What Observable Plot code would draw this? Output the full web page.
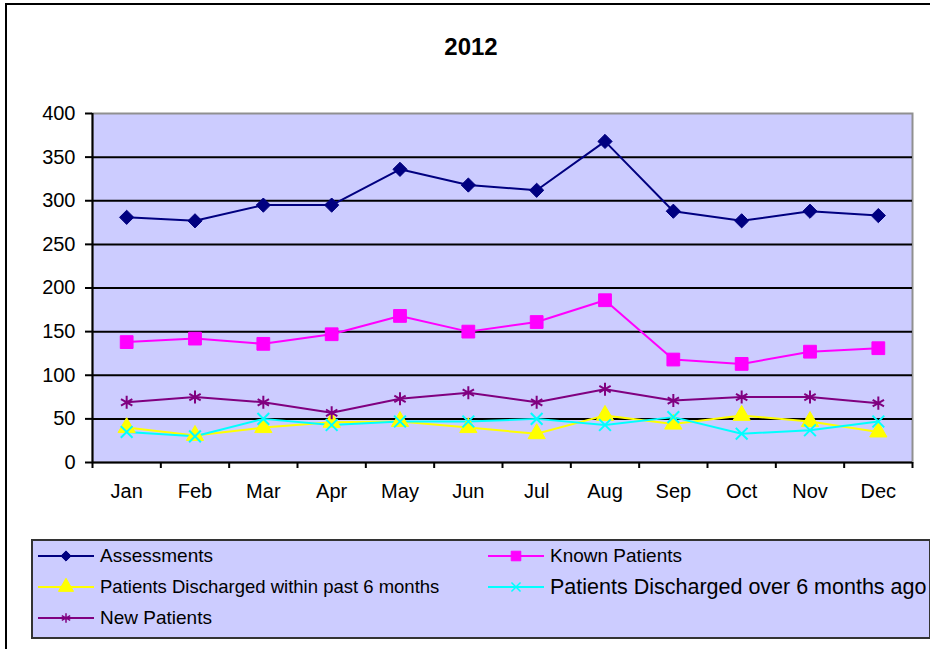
<!DOCTYPE html>
<html>
<head>
<meta charset="utf-8">
<script src="https://cdn.jsdelivr.net/npm/d3@7"></script>
<script src="https://cdn.jsdelivr.net/npm/@observablehq/plot@0.6"></script>
<style>
  html, body { margin: 0; padding: 0; background: #fff; }
  body { font-family: "Liberation Sans", Arial, sans-serif; }
  #wrap { position: relative; width: 930px; height: 649px; overflow: hidden; }
  #frame { position: absolute; left: 5px; top: 3px; width: 940px; height: 660px;
           border-left: 2px solid #000; border-top: 2px solid #000; }
  #chart { position: absolute; left: 0; top: 0; }
  #chart svg { background: transparent !important; overflow: visible; }
  #title { position: absolute; left: 0; width: 942px; top: 33px; text-align: center;
           font-weight: bold; font-size: 24px; line-height: 28px; color: #000; }
  #legend { position: absolute; left: 31px; top: 539px; width: 896px; height: 96px;
            background: #CCCCFF; border: 2px solid #333; }
  .item { position: absolute; display: flex; align-items: center; height: 24px; white-space: nowrap; color: #000; }
  .item svg { display: block; margin-right: 6px; }
</style>
</head>
<body>
<div id="wrap">
  <div id="frame"></div>
  <div id="chart"></div>
  <div id="title">2012</div>
  <div id="legend"></div>
</div>
<script>
// ---- data ----
const months = ["Jan","Feb","Mar","Apr","May","Jun","Jul","Aug","Sep","Oct","Nov","Dec"];
const yTicks = [0, 50, 100, 150, 200, 250, 300, 350, 400];

const assessments        = [281, 277, 295, 295, 336, 318, 312, 368, 288, 277, 288, 283];
const knownPatients      = [138, 142, 136, 147, 168, 150, 161, 186, 118, 113, 127, 131];
const dischargedWithin6  = [40, 31, 40, 46, 47, 40, 33, 54, 44, 54, 47, 35];
const dischargedOver6    = [35, 30, 50, 43, 47, 47, 50, 43, 52, 33, 37, 47];
const newPatients        = [69, 75, 69, 57, 73, 80, 69, 84, 71, 75, 75, 68];

const seriesNames  = ["Assessments", "Known Patients", "Patients Discharged within past 6 months",
                      "Patients Discharged over 6 months ago", "New Patients"];
const seriesValues = [assessments, knownPatients, dischargedWithin6, dischargedOver6, newPatients];
const seriesColors = ["#000080", "#FF00FF", "#FFFF00", "#00FFFF", "#800080"];
const seriesSymbols = ["diamond2", "square", "triangle", "times", "asterisk"];
const seriesR = [6.4, 7.2, 6.4, 5.4, 6.2];
const legendR = [4.6, 5.4, 5.6, 4.2, 4.6];
const seriesFilled = [true, true, true, false, false];
const legendFont = [19, 19, 18.5, 21.5, 19];

// ---- table ----
const rows = seriesNames.flatMap((name, s) =>
  seriesValues[s].map((v, i) => ({series: name, idx: s, x: i + 0.5, y: v})));

const W = 930, H = 530;
const marks = [
  Plot.frame({fill: "#CCCCFF", stroke: "#909090", strokeWidth: 2}),
  Plot.ruleY(yTicks.filter(t => t > 0 && t < 400), {stroke: "#000", strokeWidth: 2}),
  Plot.ruleX([0], {stroke: "#000", strokeWidth: 2}),
  Plot.ruleY([0], {stroke: "#000", strokeWidth: 2}),
  Plot.axisY({ticks: yTicks, tickSize: 7, tickPadding: 10, fontSize: 20, label: null,
              tickFormat: d => String(d), stroke: "#000", strokeWidth: 2, fill: "#000"}),
  Plot.axisX({ticks: d3.range(months.length + 1), tickSize: 6, label: null,
              tickFormat: () => "", stroke: "#000", strokeWidth: 2}),
  Plot.axisX({ticks: months.map((_, i) => i + 0.5), tickSize: 0, tickPadding: 21, fontSize: 20, label: null,
              tickFormat: v => months[Math.round(v - 0.5)], fill: "#000"})
];
seriesNames.forEach((name, s) => {
  const data = rows.filter(d => d.idx === s);
  marks.push(Plot.line(data, {x: "x", y: "y", stroke: seriesColors[s], strokeWidth: 2}));
});
seriesNames.forEach((name, s) => {
  const data = rows.filter(d => d.idx === s);
  marks.push(Plot.dot(data, {x: "x", y: "y", symbol: () => seriesSymbols[s], r: seriesR[s],
    fill: seriesFilled[s] ? seriesColors[s] : "none", stroke: seriesColors[s],
    strokeWidth: seriesFilled[s] ? 1 : 2}));
});

const chart = Plot.plot({
  width: W, height: H,
  marginLeft: 92, marginRight: 18, marginTop: 113, marginBottom: 68,
  style: {fontFamily: "'Liberation Sans', Arial, sans-serif", background: "transparent", color: "#000"},
  x: {type: "linear", domain: [0, months.length], axis: null, label: null},
  y: {type: "linear", domain: [0, 400], axis: null, label: null},
  symbol: {type: "identity"},
  marks
});
document.getElementById("chart").appendChild(chart);

// ---- legend ----
const legend = d3.select("#legend");
const symMap = {diamond2: d3.symbolDiamond2, square: d3.symbolSquare, triangle: d3.symbolTriangle,
                times: d3.symbolTimes, asterisk: d3.symbolAsterisk};
seriesNames.forEach((name, s) => {
  const col = s % 2, row = Math.floor(s / 2);
  const item = legend.append("div").attr("class", "item")
    .style("left", (5 + col * 450) + "px")
    .style("top", (3 + row * 31) + "px");
  const sw = item.append("svg").attr("width", 56).attr("height", 20);
  sw.append("line").attr("x1", 0).attr("x2", 56).attr("y1", 10).attr("y2", 10)
    .attr("stroke", seriesColors[s]).attr("stroke-width", 2);
  const r = legendR[s];
  sw.append("path").attr("transform", "translate(28,10)")
    .attr("d", d3.symbol(symMap[seriesSymbols[s]], Math.PI * r * r)())
    .attr("fill", seriesFilled[s] ? seriesColors[s] : "none")
    .attr("stroke", seriesColors[s]).attr("stroke-width", seriesFilled[s] ? 1 : 1.5);
  item.append("span").text(name).style("font-size", legendFont[s] + "px");
});
</script>
</body>
</html>
